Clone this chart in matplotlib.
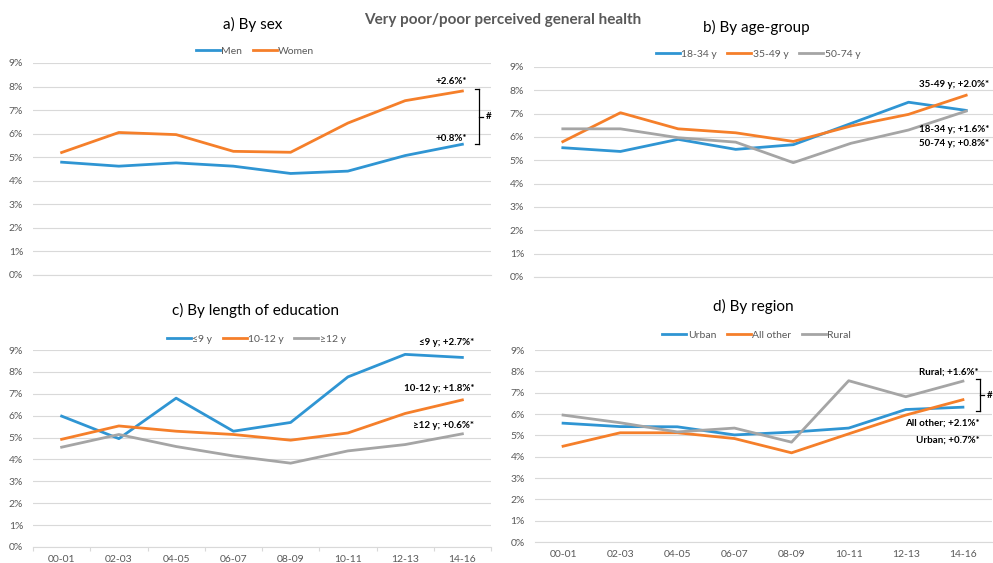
import matplotlib
matplotlib.use("Agg")
import matplotlib.pyplot as plt
from matplotlib.ticker import FuncFormatter, FixedLocator

plt.rcParams['font.family'] = ['Lato', 'DejaVu Sans']

periods = ["00-01", "02-03", "04-05", "06-07", "08-09", "10-11", "12-13", "14-16"]
y_ticks = [0, 1, 2, 3, 4, 5, 6, 7, 8, 9]

# a) By sex
sex_labels = ["Men", "Women"]
men = [4.79, 4.62, 4.76, 4.62, 4.31, 4.41, 5.07, 5.55]
women = [5.20, 6.05, 5.96, 5.25, 5.21, 6.45, 7.40, 7.81]

# b) By age-group
age_labels = ["18-34 y", "35-49 y", "50-74 y"]
age_18_34 = [5.54, 5.38, 5.90, 5.47, 5.67, 6.58, 7.49, 7.14]
age_35_49 = [5.80, 7.04, 6.35, 6.18, 5.81, 6.47, 6.97, 7.79]
age_50_74 = [6.35, 6.35, 5.97, 5.78, 4.90, 5.73, 6.30, 7.11]

# c) By length of education
edu_labels = ["≤9 y", "10-12 y", "≥12 y"]
edu_le9 = [5.98, 4.95, 6.80, 5.29, 5.69, 7.77, 8.80, 8.66]
edu_10_12 = [4.92, 5.53, 5.29, 5.14, 4.88, 5.21, 6.10, 6.72]
edu_ge12 = [4.56, 5.14, 4.59, 4.16, 3.83, 4.39, 4.68, 5.17]

# d) By region
reg_labels = ["Urban", "All other", "Rural"]
urban = [5.57, 5.41, 5.40, 5.02, 5.15, 5.34, 6.21, 6.32]
all_other = [4.49, 5.12, 5.12, 4.85, 4.18, 5.07, 5.95, 6.67]
rural = [5.95, 5.59, 5.16, 5.34, 4.68, 7.56, 6.81, 7.54]

BLUE = "#2F95D3"
ORANGE = "#F57F2A"
GRAY = "#A5A5A5"
TXT = "#595959"
GRID = "#D9D9D9"

fig = plt.figure(figsize=(9.93, 5.63), dpi=100)

def setup(ax, show_x, xticks_marks=False):
    ax.set_xlim(-0.5, 7.5)
    ax.set_ylim(0, 9)
    ax.yaxis.set_major_locator(FixedLocator(y_ticks))
    ax.yaxis.set_major_formatter(FuncFormatter(lambda v, p: f"{v:.0f}%"))
    ax.grid(axis='y', color=GRID, lw=0.8)
    ax.set_axisbelow(True)
    for s in ["top", "right", "left"]:
        ax.spines[s].set_visible(False)
    ax.spines["bottom"].set_color(GRID)
    ax.spines["bottom"].set_linewidth(0.8)
    ax.tick_params(axis='y', length=0, pad=7, labelsize=7.5, labelcolor=TXT)
    ax.set_xticks(range(len(periods)))
    if show_x:
        ax.set_xticklabels(periods)
        ax.tick_params(axis='x', length=0, pad=6, labelsize=7.5, labelcolor=TXT)
        if xticks_marks:
            ax.set_xticks([i - 0.5 for i in range(len(periods) + 1)], minor=True)
            ax.tick_params(axis='x', which='minor', length=3, color=GRID, width=0.8)
    else:
        ax.set_xticklabels([])
        ax.tick_params(axis='x', length=0)

def leg(ax, x, y):
    ax.legend(loc='center', bbox_to_anchor=(x, y), bbox_transform=fig.transFigure,
              ncol=3, frameon=False, fontsize=7.5, handlelength=2.3,
              handletextpad=0.15, columnspacing=1.0, labelcolor=TXT)

def bracket(ax, x, y0, y1):
    kw = dict(color='black', lw=0.9, clip_on=False)
    ax.plot([x, x], [y0, y1], **kw)
    ax.plot([x - 0.07, x], [y0, y0], **kw)
    ax.plot([x - 0.07, x], [y1, y1], **kw)
    ym = (y0 + y1) / 2
    ax.plot([x, x + 0.07], [ym, ym], **kw)

ann = dict(fontsize=7, fontweight='bold', color='black', clip_on=False)
x = list(range(len(periods)))
LW = 2.0

# Panel a
axa = fig.add_axes([33/993, 1-275/563, 458/993, 212/563])
setup(axa, False)
axa.plot(x, men, color=BLUE, lw=LW, label=sex_labels[0])
axa.plot(x, women, color=ORANGE, lw=LW, label=sex_labels[1])
leg(axa, 0.2568, 0.9094)
axa.text(6.81, 8.22, "+2.6%*", ha='center', va='center', **ann)
axa.text(6.81, 5.80, "+0.8%*", ha='center', va='center', **ann)
bracket(axa, 7.29, 5.55, 7.88)
axa.text(7.46, 6.71, "#", ha='center', va='center', **ann)

# Panel b
axb = fig.add_axes([534/993, 1-277/563, 461/993, 210/563])
setup(axb, False)
axb.plot(x, age_18_34, color=BLUE, lw=LW, label=age_labels[0])
axb.plot(x, age_35_49, color=ORANGE, lw=LW, label=age_labels[1])
axb.plot(x, age_50_74, color=GRAY, lw=LW, label=age_labels[2])
leg(axb, 0.7633, 0.904)
axb.text(7.40, 8.27, "35-49 y; +2.0%*", ha='right', va='center', **ann)
axb.text(7.40, 6.34, "18-34 y; +1.6%*", ha='right', va='center', **ann)
axb.text(7.40, 5.70, "50-74 y; +0.8%*", ha='right', va='center', **ann)

# Panel c
axc = fig.add_axes([33/993, 16/563, 458/993, 197/563])
setup(axc, True, xticks_marks=True)
axc.plot(x, edu_le9, color=BLUE, lw=LW, label=edu_labels[0])
axc.plot(x, edu_10_12, color=ORANGE, lw=LW, label=edu_labels[1])
axc.plot(x, edu_ge12, color=GRAY, lw=LW, label=edu_labels[2])
leg(axc, 0.258, 0.398)
axc.text(7.21, 9.32, "≤9 y; +2.7%*", ha='right', va='center', **ann)
axc.text(7.21, 7.26, "10-12 y; +1.8%*", ha='right', va='center', **ann)
axc.text(7.21, 5.53, "≥12 y; +0.6%*", ha='right', va='center', **ann)

# Panel d
axd = fig.add_axes([534.5/993, 21/563, 457/993, 192/563])
setup(axd, True)
axd.plot(x, urban, color=BLUE, lw=LW, label=reg_labels[0])
axd.plot(x, all_other, color=ORANGE, lw=LW, label=reg_labels[1])
axd.plot(x, rural, color=GRAY, lw=LW, label=reg_labels[2])
leg(axd, 0.762, 0.405)
axd.text(7.28, 7.97, "Rural; +1.6%*", ha='right', va='center', **ann)
axd.text(7.30, 5.58, "All other; +2.1%*", ha='right', va='center', **ann)
axd.text(7.30, 4.78, "Urban; +0.7%*", ha='right', va='center', **ann)
bracket(axd, 7.30, 6.14, 7.64)
axd.text(7.46, 6.86, "#", ha='center', va='center', **ann)

# Titles
fig.text(0.2548, 0.957, "a) By sex", ha='center', va='center', fontsize=11, color='black')
fig.text(0.762, 0.952, "b) By age-group", ha='center', va='center', fontsize=11, color='black')
fig.text(0.257, 0.448, "c) By length of education", ha='center', va='center', fontsize=11, color='black')
fig.text(0.759, 0.455, "d) By region", ha='center', va='center', fontsize=11, color='black')
fig.text(0.5065, 0.9645, "Very poor/poor perceived general health", ha='center', va='center',
         fontsize=11, fontweight='bold', color=TXT)

fig.savefig("out.png", dpi=100)
